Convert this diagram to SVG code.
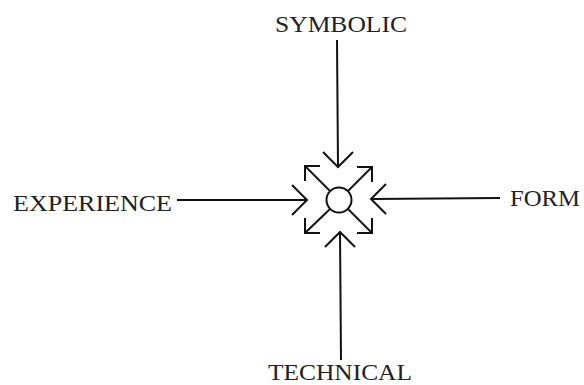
<svg xmlns="http://www.w3.org/2000/svg" width="584" height="385" viewBox="0 0 584 385">
<style>
.ln{stroke:#111;stroke-width:2;fill:none;stroke-linecap:butt;stroke-linejoin:miter}
.lb{font-family:"Liberation Serif","Times New Roman",serif;font-size:24px;fill:#222}
</style>
<rect width="584" height="385" fill="#fff"/>
<g id="connectors">
<line class="ln" x1="337" y1="40" x2="338" y2="166"/>
<polyline class="ln" points="323,152 338,167 353,152"/>
<line class="ln" x1="177" y1="200" x2="306" y2="200"/>
<polyline class="ln" points="292,185 307,200 292,215"/>
<line class="ln" x1="500" y1="198" x2="372" y2="199"/>
<polyline class="ln" points="386,184 371,199 386,214"/>
<line class="ln" x1="341" y1="360" x2="340" y2="233"/>
<polyline class="ln" points="325,247 340,232 355,247"/>
<line class="ln" x1="330" y1="191" x2="305" y2="166"/>
<polyline class="ln" points="320,166 305,166 305,181"/>
<line class="ln" x1="348" y1="191" x2="372" y2="167"/>
<polyline class="ln" points="357,167 372,167 372,182"/>
<line class="ln" x1="330" y1="209" x2="305" y2="233"/>
<polyline class="ln" points="305,218 305,233 320,233"/>
<line class="ln" x1="348" y1="209" x2="372" y2="233"/>
<polyline class="ln" points="372,218 372,233 357,233"/>
</g>
<g id="center"><circle class="ln" cx="339" cy="200" r="12.5"/></g>
<g id="symbolic"><text class="lb" x="275" y="32" font-size="22" textLength="132" lengthAdjust="spacingAndGlyphs">SYMBOLIC</text></g>
<g id="experience"><text class="lb" x="13" y="211" textLength="159" lengthAdjust="spacingAndGlyphs">EXPERIENCE</text></g>
<g id="form"><text class="lb" x="510" y="206" textLength="70" lengthAdjust="spacingAndGlyphs">FORM</text></g>
<g id="technical"><text class="lb" x="268" y="380" textLength="144" lengthAdjust="spacingAndGlyphs">TECHNICAL</text></g>
</svg>
